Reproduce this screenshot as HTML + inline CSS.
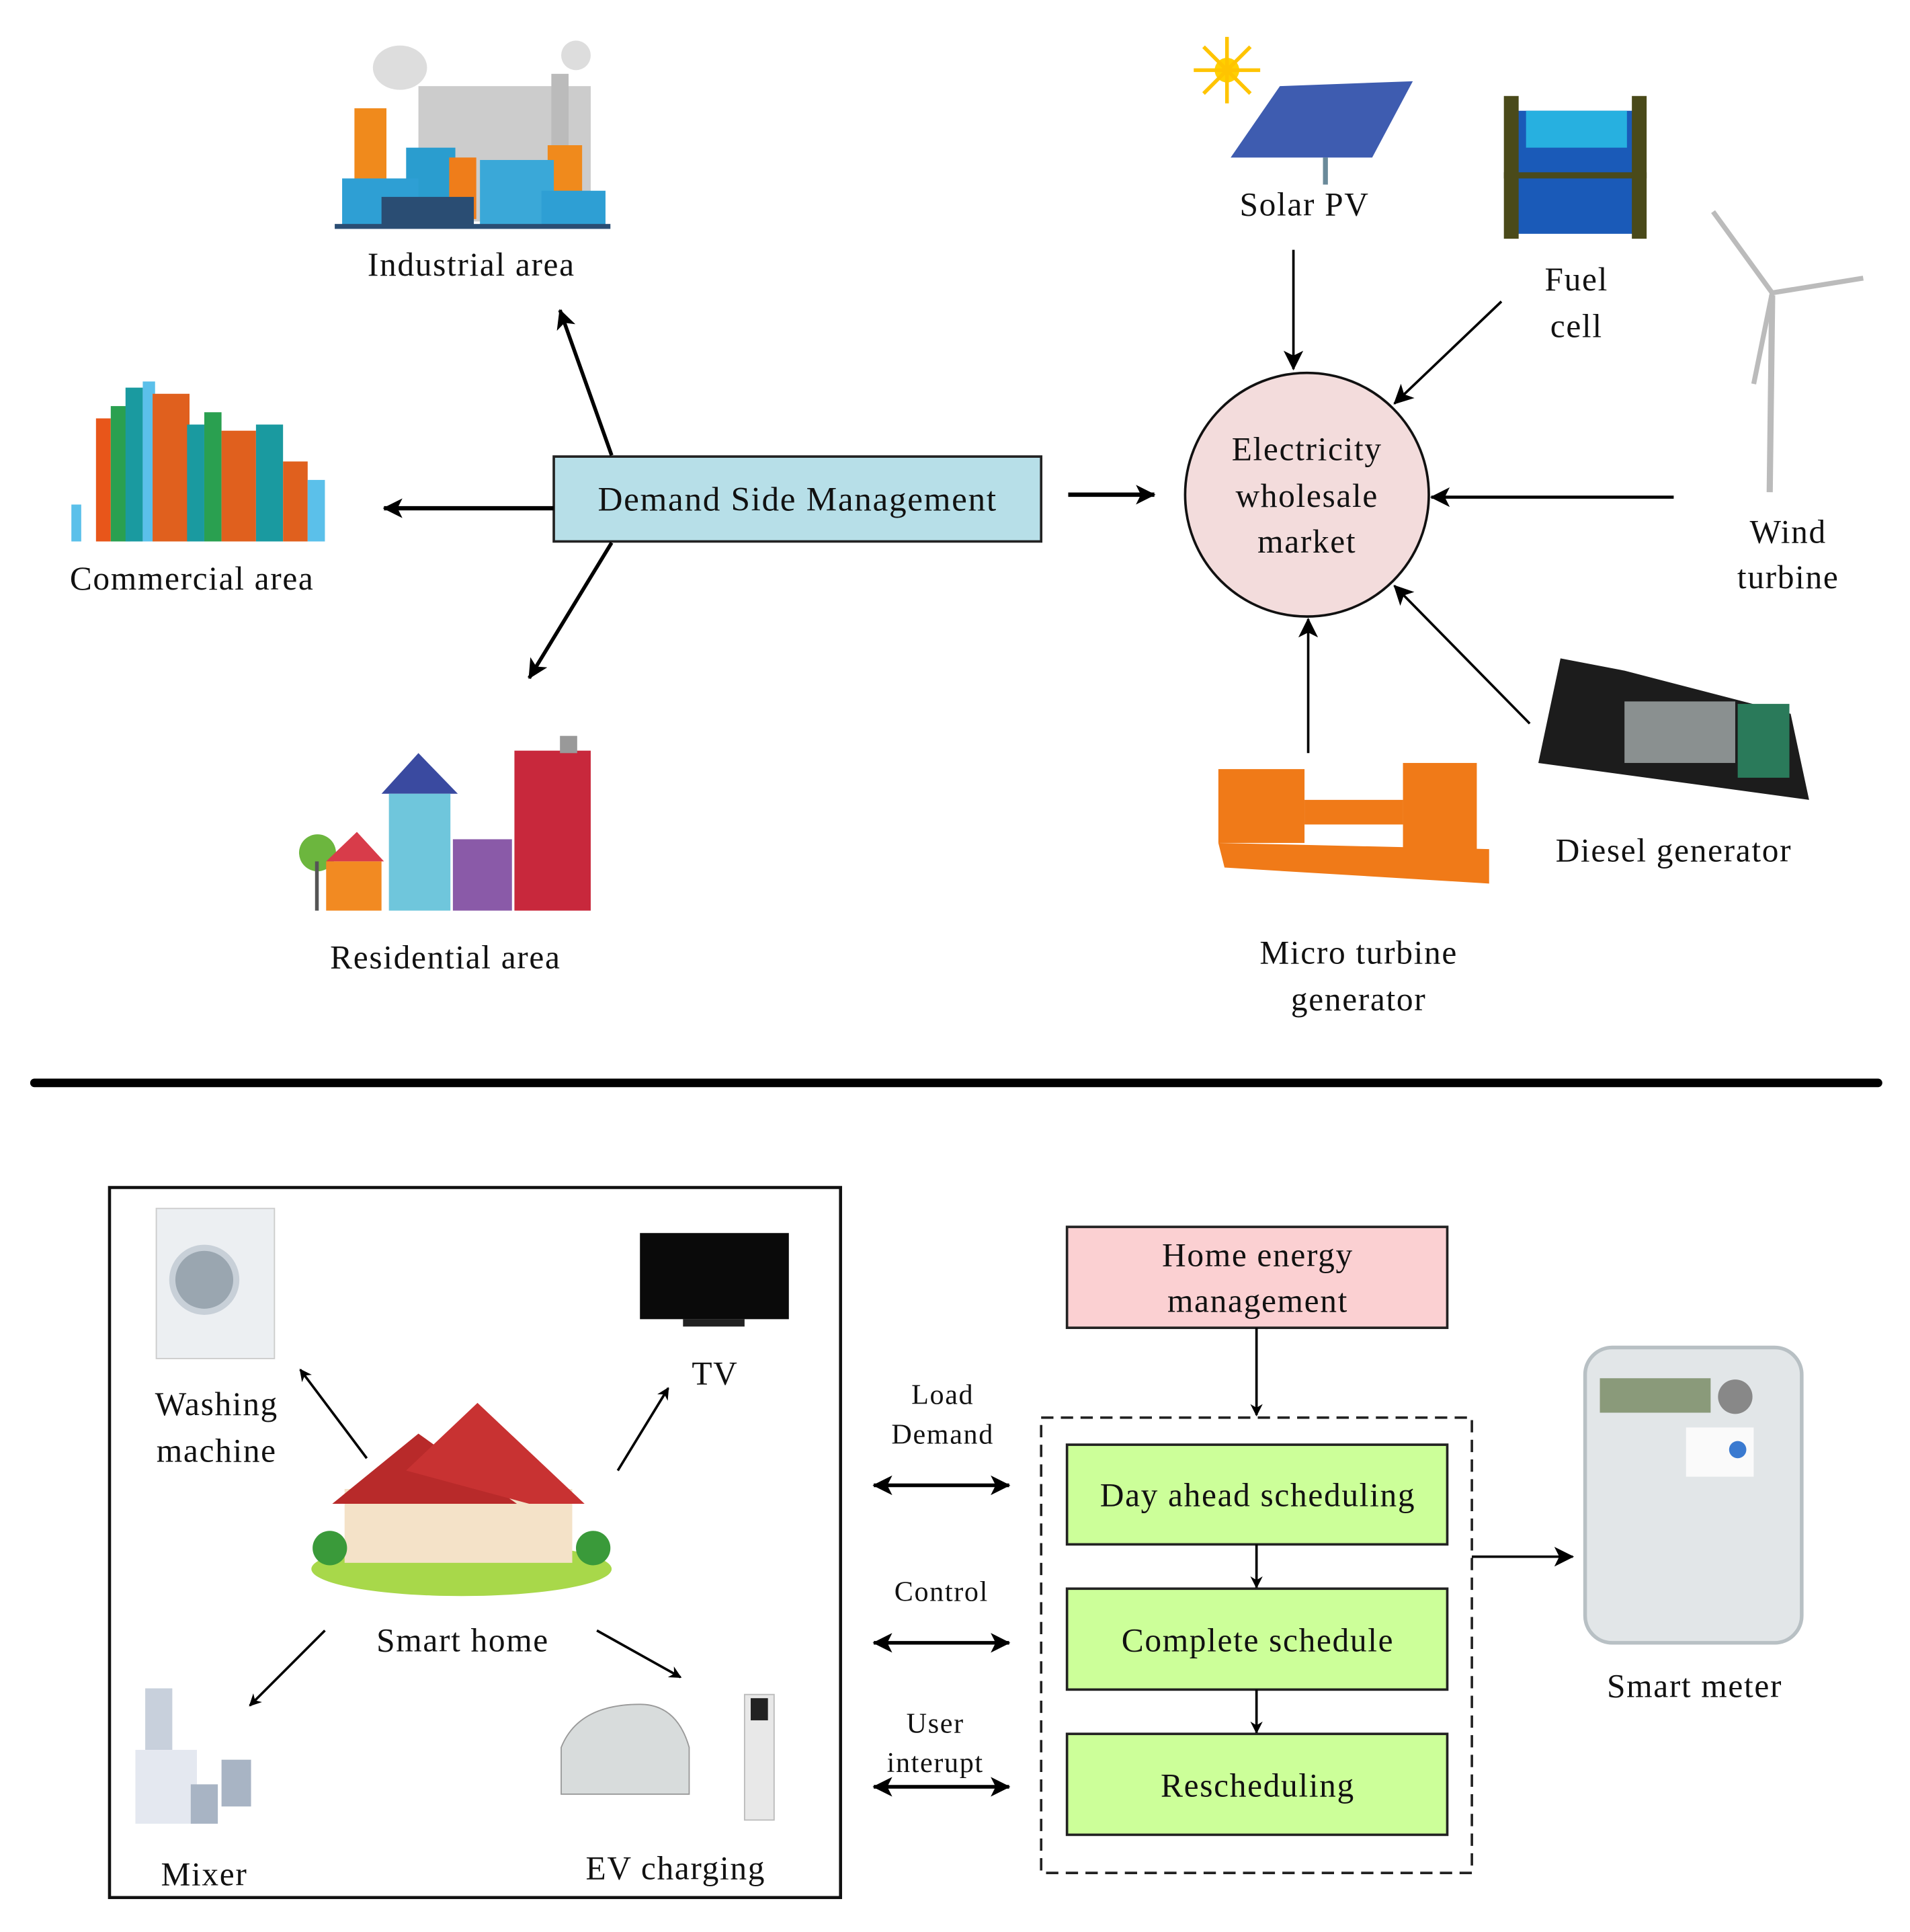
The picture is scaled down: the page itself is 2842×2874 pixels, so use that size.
<!DOCTYPE html>
<html><head><meta charset="utf-8"><style>
html,body{margin:0;padding:0;background:#fff}
svg{display:block}
text{font-family:"Liberation Serif",serif;fill:#111;letter-spacing:0.9px}
</style></head><body>
<svg width="2842" height="2874" viewBox="0 0 1552 1570" preserveAspectRatio="none" xmlns="http://www.w3.org/2000/svg">
<defs>
<marker id="a" markerWidth="10" markerHeight="10" refX="9" refY="5" orient="auto" markerUnits="userSpaceOnUse"><path d="M0,0 L10,5 L0,10 L3,5 z" fill="#000"/></marker>
<marker id="b" markerWidth="16" markerHeight="16" refX="15" refY="8" orient="auto" markerUnits="userSpaceOnUse"><path d="M0,0 L16,8 L0,16 L4,8 z" fill="#000"/></marker>
<marker id="bs" markerWidth="16" markerHeight="16" refX="1" refY="8" orient="auto" markerUnits="userSpaceOnUse"><path d="M16,0 L0,8 L16,16 L12,8 z" fill="#000"/></marker>
</defs>

<!-- Industrial -->
<g>
<ellipse cx="325" cy="55" rx="22" ry="18" fill="#ddd"/><ellipse cx="468" cy="45" rx="12" ry="12" fill="#ddd"/>
<rect x="340" y="70" width="140" height="110" fill="#ccc"/>
<rect x="448" y="60" width="14" height="60" fill="#bbb"/>
<rect x="288" y="88" width="26" height="60" fill="#f08a1c"/>
<rect x="330" y="120" width="40" height="60" fill="#2a9dcf"/>
<rect x="365" y="128" width="22" height="50" fill="#ef7d1a"/>
<rect x="445" y="118" width="28" height="58" fill="#f08a1c"/>
<rect x="278" y="145" width="62" height="40" fill="#2e9fd4"/>
<rect x="310" y="160" width="75" height="25" fill="#2a4d73"/>
<rect x="390" y="130" width="60" height="55" fill="#3aa8d8"/>
<rect x="440" y="155" width="52" height="30" fill="#2e9fd4"/>
<rect x="272" y="182" width="224" height="4" fill="#2a4d73"/>
</g>
<text x="383" y="224" font-size="27" text-anchor="middle">Industrial area</text>

<!-- Commercial -->
<g>
<rect x="58" y="410" width="8" height="30" fill="#5bc0ea"/>
<rect x="78" y="340" width="12" height="100" fill="#e8561a"/>
<rect x="90" y="330" width="16" height="110" fill="#2aa050"/>
<rect x="102" y="315" width="14" height="125" fill="#1a9aa0"/>
<rect x="116" y="310" width="10" height="130" fill="#5bc0ea"/>
<rect x="124" y="320" width="30" height="120" fill="#e0601e"/>
<rect x="152" y="345" width="14" height="95" fill="#1a9aa0"/>
<rect x="166" y="335" width="14" height="105" fill="#2aa050"/>
<rect x="180" y="350" width="28" height="90" fill="#e0601e"/>
<rect x="208" y="345" width="22" height="95" fill="#1a9aa0"/>
<rect x="230" y="375" width="20" height="65" fill="#e0601e"/>
<rect x="250" y="390" width="14" height="50" fill="#5bc0ea"/>
</g>
<text x="156" y="479" font-size="27" text-anchor="middle">Commercial area</text>

<!-- Residential -->
<g>
<circle cx="258" cy="693" r="15" fill="#6cb63e"/><rect x="256" y="700" width="3" height="40" fill="#555"/>
<polygon points="265,700 290,676 312,700" fill="#d83c4a"/>
<rect x="265" y="700" width="45" height="40" fill="#f28a22"/>
<polygon points="310,645 340,612 372,645" fill="#3a4aa0"/>
<rect x="316" y="645" width="50" height="95" fill="#6fc6dc"/>
<rect x="368" y="682" width="48" height="58" fill="#8a5aa8"/>
<rect x="418" y="610" width="62" height="130" fill="#c8283c"/>
<rect x="455" y="598" width="14" height="14" fill="#999"/>
</g>
<text x="362" y="787" font-size="27" text-anchor="middle">Residential area</text>

<!-- DSM -->
<rect x="450" y="371" width="396" height="69" fill="#b7dfe8" stroke="#222" stroke-width="2"/>
<text x="648" y="415" font-size="28" text-anchor="middle">Demand Side Management</text>
<line x1="450" y1="413" x2="312" y2="413" stroke="#000" stroke-width="3.5" marker-end="url(#b)"/>
<line x1="868" y1="402" x2="938" y2="402" stroke="#000" stroke-width="3.5" marker-end="url(#b)"/>
<line x1="497" y1="370" x2="455" y2="252" stroke="#000" stroke-width="3" marker-end="url(#b)"/>
<line x1="497" y1="441" x2="430" y2="551" stroke="#000" stroke-width="3" marker-end="url(#b)"/>

<!-- Market -->
<ellipse cx="1062" cy="402" rx="99" ry="99" fill="#f3dcdc" stroke="#111" stroke-width="2"/>
<text x="1062" y="374" font-size="27" text-anchor="middle">Electricity</text>
<text x="1062" y="412" font-size="27" text-anchor="middle">wholesale</text>
<text x="1062" y="449" font-size="27" text-anchor="middle">market</text>
<line x1="1051" y1="203" x2="1051" y2="300" stroke="#000" stroke-width="2" marker-end="url(#b)"/>
<line x1="1220" y1="245" x2="1133" y2="328" stroke="#000" stroke-width="2" marker-end="url(#b)"/>
<line x1="1360" y1="404" x2="1163" y2="404" stroke="#000" stroke-width="2.5" marker-end="url(#b)"/>
<line x1="1243" y1="588" x2="1133" y2="476" stroke="#000" stroke-width="2" marker-end="url(#b)"/>
<line x1="1063" y1="612" x2="1063" y2="503" stroke="#000" stroke-width="2" marker-end="url(#b)"/>

<!-- Solar -->
<circle cx="997" cy="57" r="10" fill="#ffd000"/>
<g stroke="#ffc400" stroke-width="3"><line x1="997" y1="30" x2="997" y2="84"/><line x1="970" y1="57" x2="1024" y2="57"/><line x1="978" y1="38" x2="1016" y2="76"/><line x1="1016" y1="38" x2="978" y2="76"/></g>
<polygon points="1040,70 1148,66 1115,128 1000,128" fill="#3e5cb0"/>
<rect x="1075" y="128" width="4" height="22" fill="#6a8a9a"/>
<text x="1060" y="175" font-size="27" text-anchor="middle">Solar PV</text>

<!-- Fuel cell -->
<rect x="1232" y="90" width="98" height="100" fill="#1a5ab8"/>
<rect x="1240" y="90" width="82" height="30" fill="#27b0e0"/>
<rect x="1222" y="78" width="12" height="116" fill="#4a4a1a"/>
<rect x="1326" y="78" width="12" height="116" fill="#4a4a1a"/>
<rect x="1222" y="140" width="116" height="5" fill="#4a4a1a"/>
<text x="1281" y="236" font-size="27" text-anchor="middle">Fuel</text>
<text x="1281" y="274" font-size="27" text-anchor="middle">cell</text>

<!-- Wind turbine -->
<g stroke="#bbb" fill="none">
<line x1="1440" y1="240" x2="1438" y2="400" stroke-width="5"/>
<line x1="1440" y1="238" x2="1392" y2="172" stroke-width="4"/>
<line x1="1440" y1="238" x2="1514" y2="226" stroke-width="4"/>
<line x1="1440" y1="238" x2="1425" y2="312" stroke-width="4"/>
</g>
<text x="1453" y="441" font-size="27" text-anchor="middle">Wind</text>
<text x="1453" y="478" font-size="27" text-anchor="middle">turbine</text>

<!-- Diesel -->
<polygon points="1268,535 1320,545 1455,580 1470,650 1250,620" fill="#1c1c1c"/>
<rect x="1320" y="570" width="90" height="50" fill="#8a9090"/>
<rect x="1412" y="572" width="42" height="60" fill="#2a7a5a"/>
<text x="1360" y="700" font-size="27" text-anchor="middle">Diesel generator</text>

<!-- Micro turbine -->
<g fill="#f07a18">
<rect x="990" y="625" width="70" height="60"/>
<rect x="1060" y="650" width="80" height="20"/>
<rect x="1140" y="620" width="60" height="80"/>
<polygon points="990,685 1210,690 1210,718 995,705"/>
</g>
<text x="1104" y="783" font-size="27" text-anchor="middle">Micro turbine</text>
<text x="1104" y="821" font-size="27" text-anchor="middle">generator</text>

<!-- divider -->
<line x1="28" y1="880" x2="1526" y2="880" stroke="#000" stroke-width="7" stroke-linecap="round"/>

<!-- Bottom left box -->
<rect x="89" y="965" width="594" height="577" fill="none" stroke="#111" stroke-width="2.5"/>
<rect x="127" y="982" width="96" height="122" fill="#eceff2" stroke="#ccc"/>
<circle cx="166" cy="1040" r="26" fill="#9aa6b0" stroke="#c8d0d8" stroke-width="5"/>
<text x="176" y="1150" font-size="27" text-anchor="middle">Washing</text>
<text x="176" y="1188" font-size="27" text-anchor="middle">machine</text>
<rect x="520" y="1002" width="121" height="70" fill="#0a0a0a"/>
<rect x="555" y="1072" width="50" height="6" fill="#222"/>
<text x="581" y="1125" font-size="27" text-anchor="middle">TV</text>
<ellipse cx="375" cy="1275" rx="122" ry="22" fill="#a8d84a"/>
<rect x="280" y="1210" width="185" height="60" fill="#f4e2c8"/>
<polygon points="270,1222 340,1165 420,1222" fill="#b82a2a"/>
<polygon points="330,1195 388,1140 475,1222 430,1222" fill="#c83232"/>
<circle cx="268" cy="1258" r="14" fill="#3a9a3a"/><circle cx="482" cy="1258" r="14" fill="#3a9a3a"/>
<text x="376" y="1342" font-size="27" text-anchor="middle">Smart home</text>
<line x1="298" y1="1185" x2="244" y2="1113" stroke="#000" stroke-width="2" marker-end="url(#a)"/>
<line x1="502" y1="1195" x2="543" y2="1128" stroke="#000" stroke-width="2" marker-end="url(#a)"/>
<line x1="264" y1="1325" x2="203" y2="1386" stroke="#000" stroke-width="2" marker-end="url(#a)"/>
<line x1="485" y1="1325" x2="553" y2="1363" stroke="#000" stroke-width="2" marker-end="url(#a)"/>
<rect x="118" y="1372" width="22" height="50" fill="#c8d0dc"/>
<rect x="110" y="1422" width="50" height="60" fill="#e4e8f0"/>
<rect x="180" y="1430" width="24" height="38" fill="#a8b4c4"/>
<rect x="155" y="1450" width="22" height="32" fill="#a8b4c4"/>
<text x="166" y="1532" font-size="27" text-anchor="middle">Mixer</text>
<path d="M456,1420 Q470,1385 520,1385 Q550,1385 560,1420 L560,1458 L456,1458 Z" fill="#d8dcdc" stroke="#999"/>
<rect x="605" y="1377" width="24" height="102" fill="#e8e8e8" stroke="#bbb"/>
<rect x="610" y="1380" width="14" height="18" fill="#222"/>
<text x="549" y="1527" font-size="27" text-anchor="middle">EV charging</text>

<!-- Right flow -->
<rect x="867" y="997" width="309" height="82" fill="#fbd0d2" stroke="#222" stroke-width="2"/>
<text x="1022" y="1029" font-size="27" text-anchor="middle">Home energy</text>
<text x="1022" y="1066" font-size="27" text-anchor="middle">management</text>
<line x1="1021" y1="1079" x2="1021" y2="1150" stroke="#000" stroke-width="2" marker-end="url(#a)"/>
<rect x="846" y="1152" width="350" height="370" fill="none" stroke="#222" stroke-width="2" stroke-dasharray="10,6"/>
<rect x="867" y="1174" width="309" height="81" fill="#ccff99" stroke="#222" stroke-width="2"/>
<text x="1022" y="1224" font-size="27" text-anchor="middle">Day ahead scheduling</text>
<line x1="1021" y1="1255" x2="1021" y2="1290" stroke="#000" stroke-width="2" marker-end="url(#a)"/>
<rect x="867" y="1291" width="309" height="82" fill="#ccff99" stroke="#222" stroke-width="2"/>
<text x="1022" y="1342" font-size="27" text-anchor="middle">Complete schedule</text>
<line x1="1021" y1="1373" x2="1021" y2="1408" stroke="#000" stroke-width="2" marker-end="url(#a)"/>
<rect x="867" y="1409" width="309" height="82" fill="#ccff99" stroke="#222" stroke-width="2"/>
<text x="1022" y="1460" font-size="27" text-anchor="middle">Rescheduling</text>

<text x="766" y="1141" font-size="23" text-anchor="middle">Load</text>
<text x="766" y="1173" font-size="23" text-anchor="middle">Demand</text>
<text x="765" y="1301" font-size="23" text-anchor="middle">Control</text>
<text x="760" y="1408" font-size="23" text-anchor="middle">User</text>
<text x="760" y="1440" font-size="23" text-anchor="middle">interupt</text>
<g stroke="#000" stroke-width="3">
<line x1="710" y1="1207" x2="820" y2="1207" marker-start="url(#bs)" marker-end="url(#b)"/>
<line x1="710" y1="1335" x2="820" y2="1335" marker-start="url(#bs)" marker-end="url(#b)"/>
<line x1="710" y1="1452" x2="820" y2="1452" marker-start="url(#bs)" marker-end="url(#b)"/>
</g>
<line x1="1196" y1="1265" x2="1278" y2="1265" stroke="#000" stroke-width="2" marker-end="url(#b)"/>

<rect x="1288" y="1095" width="176" height="240" rx="22" fill="#e2e6e8" stroke="#b8c0c4" stroke-width="3"/>
<rect x="1300" y="1120" width="90" height="28" fill="#8a9a7a"/>
<circle cx="1410" cy="1135" r="14" fill="#888"/>
<rect x="1370" y="1160" width="55" height="40" fill="#fafafa"/>
<circle cx="1412" cy="1178" r="7" fill="#3a7ad0"/>
<text x="1377" y="1379" font-size="27" text-anchor="middle">Smart meter</text>
</svg>
</body></html>
